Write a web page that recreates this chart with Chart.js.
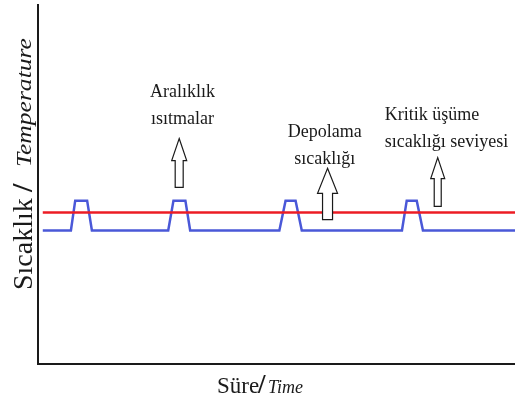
<!DOCTYPE html>
<html>
<head>
<meta charset="utf-8">
<script src="https://cdn.jsdelivr.net/npm/chart.js@4"></script>
<style>
  html, body { margin: 0; padding: 0; background: #fff; }
  #chart { display: block; }
</style>
</head>
<body>
<canvas id="chart" width="515" height="403"></canvas>
<script>
// Storage level (red) and product temperature with periodic warming (blue)
const storageTime = [1, 100];
const storageTemp = [42.2, 42.2];
const productTime = [1, 6.9, 7.8, 10.3, 11.3, 27.3, 28.4, 30.9, 31.9, 50.6, 51.9, 54.0, 55.3, 76.3, 77.3, 79.4, 80.7, 100];
const productTemp = [37.2, 37.2, 45.5, 45.5, 37.2, 37.2, 45.5, 45.5, 37.2, 37.2, 45.5, 45.5, 37.2, 37.2, 45.5, 45.5, 37.2, 37.2];

// Annotations: arrows and their captions
const arrowTime = [29.6, 60.7, 83.8];
const arrowTip = [62.8, 54.5, 57.5];
const arrowBase = [49.2, 40.2, 43.9];
const noteLines = [["Aralıklık", "ısıtmalar"], ["Depolama", "sıcaklığı"], ["Kritik üşüme", "sıcaklığı seviyesi"]];
const noteTime = [30.3, 60.1, 72.7];
const noteTemp = [74.3, 63.1, 67.9];

const yTitle = ["Sıcaklık", "Temperature"];
const xTitle = ["Süre", "Time"];

function toPoints(xs, ys) {
  return xs.map((x, i) => ({ x: x, y: ys[i] }));
}

// Hollow arrows, captions and the two-font axis titles.
const arrowStyle = [
  { head: 15, shaft: 8, headLen: 22 },
  { head: 20, shaft: 10, headLen: 25 },
  { head: 14, shaft: 7, headLen: 21 },
];
const notesPlugin = {
  id: "notes",
  afterDraw: (chart) => {
    const { ctx, scales } = chart;
    const xs = scales.x, ys = scales.y;
    ctx.save();
    ctx.strokeStyle = "#1a1a1a";
    ctx.lineWidth = 1.2;
    ctx.fillStyle = "#fff";
    arrowTime.forEach((t, i) => {
      const s = arrowStyle[i];
      const x = xs.getPixelForValue(t);
      const top = ys.getPixelForValue(arrowTip[i]);
      const bot = ys.getPixelForValue(arrowBase[i]);
      const hb = top + s.headLen;
      ctx.beginPath();
      ctx.moveTo(x, top);
      ctx.lineTo(x + s.head / 2, hb);
      ctx.lineTo(x + s.shaft / 2, hb);
      ctx.lineTo(x + s.shaft / 2, bot);
      ctx.lineTo(x - s.shaft / 2, bot);
      ctx.lineTo(x - s.shaft / 2, hb);
      ctx.lineTo(x - s.head / 2, hb);
      ctx.closePath();
      ctx.fill();
      ctx.stroke();
    });
    ctx.fillStyle = "#1a1a1a";
    ctx.font = "18px 'Liberation Serif'";
    ctx.textBaseline = "alphabetic";
    noteLines.forEach((lines, i) => {
      const x = xs.getPixelForValue(noteTime[i]);
      const y = ys.getPixelForValue(noteTemp[i]);
      ctx.textAlign = i === 2 ? "left" : "center";
      lines.forEach((line, j) => ctx.fillText(line, x, y + j * 27));
    });

    // y title, rotated
    ctx.save();
    ctx.translate(32, 290);
    ctx.rotate(-Math.PI / 2);
    ctx.textAlign = "left";
    ctx.font = "28px 'Liberation Serif'";
    ctx.fillText(yTitle[0], 0, 0);
    ctx.font = "bold 30px 'Liberation Serif'";
    ctx.fillText("/", 98, 0);
    ctx.font = "italic 20px 'Liberation Serif'";
    ctx.save();
    ctx.translate(123, -1);
    ctx.scale(1.28, 1);
    ctx.fillText(yTitle[1], 0, 0);
    ctx.restore();
    ctx.restore();

    // x title
    ctx.textAlign = "left";
    ctx.font = "23px 'Liberation Serif'";
    ctx.fillText(xTitle[0], 217, 393);
    ctx.font = "bold 27px 'Liberation Serif'";
    ctx.fillText("/", 258, 393);
    ctx.font = "italic 18px 'Liberation Serif'";
    ctx.fillText(xTitle[1], 268, 393);
    ctx.restore();
  },
};

new Chart(document.getElementById("chart").getContext("2d"), {
  type: "line",
  data: {
    datasets: [
      {
        data: toPoints(storageTime, storageTemp),
        borderColor: "#ec1c24",
        borderWidth: 2.5,
        pointRadius: 0,
        fill: false,
      },
      {
        data: toPoints(productTime, productTemp),
        borderColor: "#4a58d8",
        borderWidth: 2.5,
        pointRadius: 0,
        fill: false,
      },
    ],
  },
  plugins: [notesPlugin],
  options: {
    responsive: false,
    animation: false,
    devicePixelRatio: 1,
    layout: { padding: { left: 30, top: 5, right: 0, bottom: 31 } },
    plugins: {
      legend: { display: false },
      tooltip: { enabled: false },
    },
    scales: {
      x: {
        type: "linear",
        min: 0,
        max: 100,
        grid: { display: false },
        ticks: { display: false },
        border: { color: "#1a1a1a", width: 2 },
      },
      y: {
        min: 0,
        max: 100,
        grid: { display: false },
        ticks: { display: false },
        border: { color: "#1a1a1a", width: 2 },
      },
    },
  },
});
</script>
</body>
</html>
